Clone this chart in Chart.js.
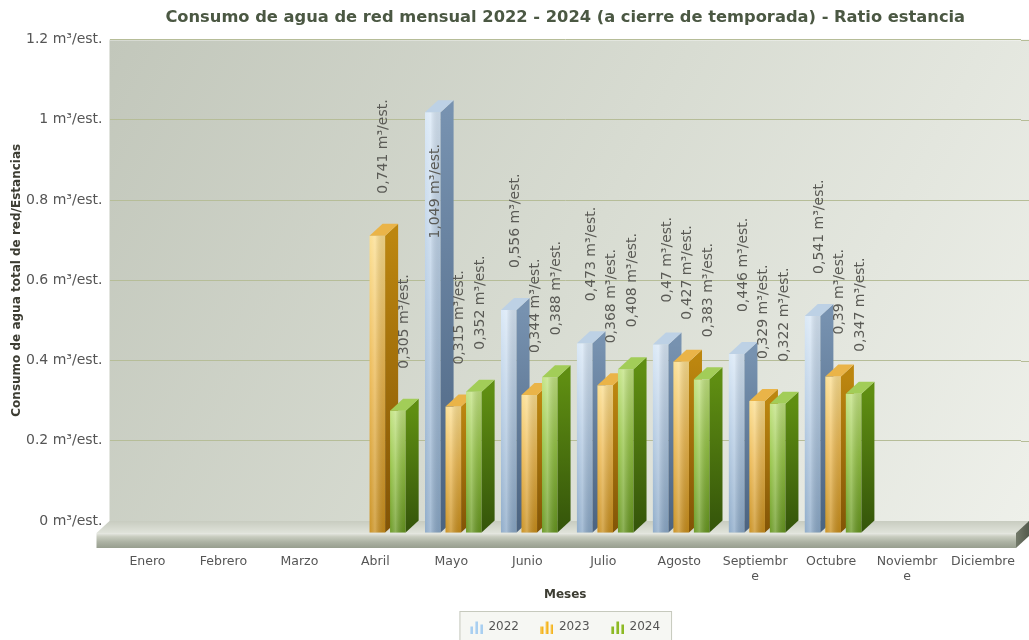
<!DOCTYPE html>
<html>
<head>
<meta charset="utf-8">
<script src="https://cdn.jsdelivr.net/npm/chart.js@4.4.1/dist/chart.umd.min.js"></script>
<style>
	body { margin: 0; background: #ffffff; }
</style>
</head>
<body>
<canvas id="chart" width="1029" height="640"></canvas>
<script>
// Data
const months = ["Enero", "Febrero", "Marzo", "Abril", "Mayo", "Junio", "Julio", "Agosto", ["Septiembr", "e"], "Octubre", ["Noviembr", "e"], "Diciembre"];
const years = ["2022", "2023", "2024"];
const ratio2022 = [null, null, null, null, 1.049, 0.556, 0.473, 0.47, 0.446, 0.541, null, null];
const ratio2023 = [null, null, null, 0.741, 0.315, 0.344, 0.368, 0.427, 0.329, 0.39, null, null];
const ratio2024 = [null, null, null, 0.305, 0.352, 0.388, 0.408, 0.383, 0.322, 0.347, null, null];
const yTickValues = [0, 0.2, 0.4, 0.6, 0.8, 1, 1.2];
const unit = "m³/est.";

// 3D look
const DEPTH_X = 13;
const DEPTH_Y = 12;
const FRONT_SHIFT = 2;
const FLOOR_THICK = 15;

const faces = [
	{ front: ["#d8e7f6", "#b4cbe3", "#8aa8c7"], side: ["#7792b0", "#4b6380"], top: "#bdd1e5", icon: "#a9cff0" },
	{ front: ["#fbdd8c", "#ecb850", "#c88d1a"], side: ["#bc860f", "#825406"], top: "#eab448", icon: "#f4b41e" },
	{ front: ["#c0e27e", "#94c344", "#66961e"], side: ["#5f8e12", "#34540a"], top: "#a2cd58", icon: "#8cb922" },
];

const fmtValue = (v) => `${String(v).replace(".", ",")} ${unit}`;

// Small bar chart icons for the legend
const makeIcon = (color) => {
	const c = document.createElement("canvas");
	c.width = 13;
	c.height = 13;
	const g = c.getContext("2d");
	const bars = [[0, 7], [5, 12], [10, 9]];
	g.fillStyle = color;
	bars.forEach(([x, h]) => g.fillRect(x, 13 - h, 3, h));
	g.fillStyle = "rgba(255,255,255,0.35)";
	bars.forEach(([x, h]) => g.fillRect(x, 13 - h, 1, h));
	return c;
};
const legendIcons = faces.map((f) => makeIcon(f.icon));

const threeD = {
	id: "threeD",
	afterInit(chart) {
		const legend = chart.legend;
		const fit = legend.fit;
		legend.fit = function () {
			fit.call(this);
			this.height = 41;
		};
	},
	beforeDraw(chart) {
		const { ctx, chartArea: a, width } = chart;
		ctx.save();
		// back wall
		const g = ctx.createLinearGradient(a.left, a.top, width, a.bottom);
		g.addColorStop(0, "#c2c7bb");
		g.addColorStop(0.5, "#d8dcd2");
		g.addColorStop(1, "#eef0ea");
		ctx.fillStyle = g;
		ctx.fillRect(a.left, a.top, width - a.left, a.bottom - a.top);
		ctx.fillStyle = "rgba(255,255,255,0.6)";
		ctx.fillRect(a.left, a.top, width - a.left, 1);

		// legend frame
		const boxes = chart.legend.legendHitBoxes;
		if (boxes && boxes.length) {
			const l = Math.min(...boxes.map((b) => b.left)) - 11;
			const r = Math.max(...boxes.map((b) => b.left + b.width)) + 12;
			const t = boxes[0].top - 10;
			ctx.fillStyle = "#f6f7f3";
			ctx.fillRect(l, t, r - l, 40);
			ctx.strokeStyle = "#c6c9bd";
			ctx.lineWidth = 1;
			ctx.strokeRect(l + 0.5, t + 0.5, r - l - 1, 40);
		}
		ctx.restore();
	},
	beforeDatasetsDraw(chart) {
		const { ctx, chartArea: a, width, scales } = chart;
		ctx.save();
		// grid lines continue over the right part of the wall
		ctx.strokeStyle = "#b6bd98";
		ctx.lineWidth = 1;
		scales.y.ticks.forEach((t, i) => {
			const y = Math.round(scales.y.getPixelForTick(i)) + 0.5;
			ctx.beginPath();
			ctx.moveTo(a.right, y);
			ctx.lineTo(width, y);
			ctx.stroke();
		});

		// floor slab
		const yb = a.bottom;
		const xl = a.left;
		const xr = width;
		const top = ctx.createLinearGradient(0, yb, 0, yb + DEPTH_Y);
		top.addColorStop(0, "#c8ccc0");
		top.addColorStop(1, "#e0e3da");
		ctx.fillStyle = top;
		ctx.beginPath();
		ctx.moveTo(xl, yb);
		ctx.lineTo(xr, yb);
		ctx.lineTo(xr - DEPTH_X, yb + DEPTH_Y);
		ctx.lineTo(xl - DEPTH_X, yb + DEPTH_Y);
		ctx.closePath();
		ctx.fill();

		const front = ctx.createLinearGradient(0, yb + DEPTH_Y, 0, yb + DEPTH_Y + FLOOR_THICK);
		front.addColorStop(0, "#e8eae4");
		front.addColorStop(0.25, "#c8ccbf");
		front.addColorStop(0.6, "#acb2a3");
		front.addColorStop(1, "#979e8e");
		ctx.fillStyle = front;
		ctx.fillRect(xl - DEPTH_X, yb + DEPTH_Y, xr - xl, FLOOR_THICK);

		const side = ctx.createLinearGradient(xr - DEPTH_X, 0, xr, 0);
		side.addColorStop(0, "#737a6a");
		side.addColorStop(1, "#535a4c");
		ctx.fillStyle = side;
		ctx.beginPath();
		ctx.moveTo(xr - DEPTH_X, yb + DEPTH_Y);
		ctx.lineTo(xr, yb);
		ctx.lineTo(xr, yb + FLOOR_THICK);
		ctx.lineTo(xr - DEPTH_X, yb + DEPTH_Y + FLOOR_THICK);
		ctx.closePath();
		ctx.fill();
		ctx.restore();
	},
	afterDatasetsDraw(chart) {
		const { ctx, chartArea: a } = chart;
		const sets = chart.data.datasets;
		const labels = [];
		ctx.save();
		chart.data.labels.forEach((_, j) => {
			sets.forEach((ds, i) => {
				const v = ds.data[j];
				if (v == null) return;
				const el = chart.getDatasetMeta(i).data[j];
				const { x, y, base, width } = el.getProps(["x", "y", "base", "width"], true);
				const f = faces[i];
				const x0 = x - width / 2 + FRONT_SHIFT;
				const x1 = x0 + width;
				const yTop = y + DEPTH_Y;
				const yBot = base + DEPTH_Y;

				// front face
				const gf = ctx.createLinearGradient(0, yTop, 0, yBot);
				gf.addColorStop(0, f.front[0]);
				gf.addColorStop(0.45, f.front[1]);
				gf.addColorStop(1, f.front[2]);
				ctx.fillStyle = gf;
				ctx.fillRect(x0, yTop, width, yBot - yTop);
				const gh = ctx.createLinearGradient(x0, 0, x1, 0);
				gh.addColorStop(0, "rgba(255,255,255,0.05)");
				gh.addColorStop(0.35, "rgba(255,255,255,0.25)");
				gh.addColorStop(1, "rgba(0,0,0,0.08)");
				ctx.fillStyle = gh;
				ctx.fillRect(x0, yTop, width, yBot - yTop);

				// side face
				const gs = ctx.createLinearGradient(0, yTop, 0, yBot);
				gs.addColorStop(0, f.side[0]);
				gs.addColorStop(1, f.side[1]);
				ctx.fillStyle = gs;
				ctx.beginPath();
				ctx.moveTo(x1, yTop);
				ctx.lineTo(x1 + DEPTH_X, yTop - DEPTH_Y);
				ctx.lineTo(x1 + DEPTH_X, yBot - DEPTH_Y);
				ctx.lineTo(x1, yBot);
				ctx.closePath();
				ctx.fill();

				// top face
				ctx.fillStyle = f.top;
				ctx.beginPath();
				ctx.moveTo(x0, yTop);
				ctx.lineTo(x1, yTop);
				ctx.lineTo(x1 + DEPTH_X, yTop - DEPTH_Y);
				ctx.lineTo(x0 + DEPTH_X, yTop - DEPTH_Y);
				ctx.closePath();
				ctx.fill();

				labels.push({ v, x0, width, y, yTop });
			});
		});

		// value labels, rotated
		ctx.font = "14px 'DejaVu Sans', Verdana, sans-serif";
		ctx.fillStyle = "#5a5a55";
		ctx.textBaseline = "middle";
		labels.forEach(({ v, x0, width, y, yTop }) => {
			const text = fmtValue(v);
			const w = ctx.measureText(text).width;
			let lx = x0 + (width + DEPTH_X) / 2;
			let start = y - 30;
			if (start - w < a.top) {
				lx = x0 + width / 2 + 3;
				start = yTop + 32 + w;
			}
			ctx.save();
			ctx.translate(lx, start);
			ctx.rotate(-Math.PI / 2);
			ctx.textAlign = "left";
			ctx.fillText(text, 0, 0);
			ctx.restore();
		});
		ctx.restore();
	},
};

Chart.defaults.font.family = "'DejaVu Sans', Verdana, sans-serif";

const ratios = [ratio2022, ratio2023, ratio2024];

new Chart(document.getElementById("chart").getContext("2d"), {
	type: "bar",
	data: {
		labels: months,
		datasets: years.map((year, i) => ({
			label: year,
			data: ratios[i],
			backgroundColor: "rgba(0,0,0,0)",
			borderWidth: 0,
			categoryPercentage: 0.81,
			barPercentage: 0.76,
		})),
	},
	options: {
		responsive: false,
		animation: false,
		layout: { padding: { left: 0, right: 8, top: 0, bottom: 0 } },
		scales: {
			x: {
				afterFit: (s) => {
					s.height = 78;
					s.paddingLeft = 0;
					s.paddingRight = 0;
				},
				grid: { display: false, drawTicks: false },
				border: { display: false },
				ticks: {
					padding: 33,
					color: "#555555",
					font: { size: 12.5 },
					maxRotation: 0,
					autoSkip: false,
				},
				title: {
					display: true,
					text: "Meses",
					color: "#3c3c32",
					font: { size: 12, weight: "bold" },
					padding: { top: 0, bottom: -3 },
				},
			},
			y: {
				min: 0,
				max: 1.2,
				afterBuildTicks: (s) => { s.ticks = yTickValues.map((value) => ({ value })); },
				afterFit: (s) => { s.width = 109.5; },
				grid: { color: "#b6bd98", drawTicks: false },
				border: { display: false },
				ticks: {
					padding: 7,
					color: "#555555",
					font: { size: 14 },
					callback: (v) => `${v} ${unit}`,
				},
				title: {
					display: true,
					text: "Consumo de agua total de red/Estancias",
					color: "#3c3c32",
					font: { size: 12, weight: "bold" },
					padding: { top: 10, bottom: 0 },
				},
			},
		},
		plugins: {
			title: {
				display: true,
				fullSize: false,
				text: "Consumo de agua de red mensual 2022 - 2024 (a cierre de temporada) - Ratio estancia",
				color: "#4b5843",
				font: { size: 16.3, weight: "bold" },
				padding: { top: 8, bottom: 12 },
			},
			legend: {
				position: "bottom",
				fullSize: false,
				labels: {
					usePointStyle: true,
					padding: 22,
					color: "#555555",
					font: { size: 12 },
					generateLabels: (chart) =>
						Chart.defaults.plugins.legend.labels
							.generateLabels(chart)
							.map((item, i) => ({ ...item, pointStyle: legendIcons[i] })),
				},
			},
			tooltip: { enabled: false },
		},
	},
	plugins: [threeD],
});
</script>
</body>
</html>
